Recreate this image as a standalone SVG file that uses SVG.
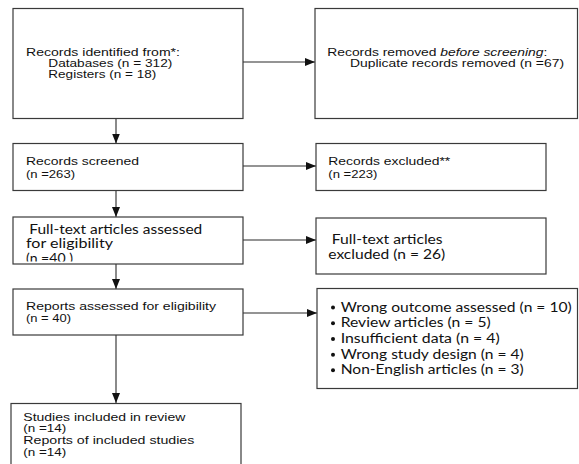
<svg xmlns="http://www.w3.org/2000/svg" width="579" height="464" viewBox="0 0 579 464">
<style>
  .box { fill: #ffffff; stroke: #3a3a3a; stroke-width: 1.2; }
  .a { font-family: "Liberation Sans", Arial, sans-serif; font-size: 11.5px; fill: #111111; }
  .c { font-family: Lato, "Open Sans", sans-serif; font-size: 12.5px; fill: #111111; }
  .conn { stroke: #2a2a2a; stroke-width: 1.1; fill: none; marker-end: url(#arrow); }
</style>
<defs>
  <marker id="arrow" markerUnits="userSpaceOnUse" markerWidth="10" markerHeight="8" refX="10" refY="4" orient="auto">
    <path d="M0,0 L10,4 L0,8 z" fill="#111111"/>
  </marker>
  <clipPath id="clipFT">
    <rect x="13" y="217" width="230" height="44.5"/>
  </clipPath>
</defs>
<rect width="579" height="464" fill="#ffffff"/>

<g id="connectors">
  <line class="conn" x1="116" y1="118.5" x2="116" y2="143.5"/>
  <line class="conn" x1="116" y1="190.5" x2="116" y2="217"/>
  <line class="conn" x1="116" y1="264" x2="116" y2="289"/>
  <line class="conn" x1="116" y1="335" x2="116" y2="403"/>
  <line class="conn" x1="243" y1="62" x2="315" y2="62"/>
  <line class="conn" x1="243" y1="166" x2="316" y2="166"/>
  <line class="conn" x1="243" y1="240" x2="316" y2="240"/>
  <line class="conn" x1="243" y1="313" x2="317" y2="313"/>
</g>

<g id="identified">
  <rect class="box" x="13" y="8.5" width="230" height="110"/>
  <text class="a" x="26" y="55.5" textLength="154" lengthAdjust="spacingAndGlyphs">Records identified from*:</text>
  <text class="a" x="48.3" y="66.7" textLength="124" lengthAdjust="spacingAndGlyphs">Databases (n = 312)</text>
  <text class="a" x="48.3" y="78.2" textLength="108" lengthAdjust="spacingAndGlyphs">Registers (n = 18)</text>
</g>

<g id="removed">
  <rect class="box" x="315" y="8.5" width="262.5" height="110"/>
  <text class="a" x="327.3" y="55.5" textLength="220" lengthAdjust="spacingAndGlyphs">Records removed <tspan font-style="italic">before screening</tspan>:</text>
  <text class="a" x="350" y="66.7" textLength="214" lengthAdjust="spacingAndGlyphs">Duplicate records removed (n =67)</text>
</g>

<g id="screened">
  <rect class="box" x="13" y="143.5" width="230" height="47"/>
  <text class="a" x="26" y="165.2" textLength="113" lengthAdjust="spacingAndGlyphs">Records screened</text>
  <text class="a" x="26" y="177.7" textLength="49" lengthAdjust="spacingAndGlyphs">(n =263)</text>
</g>

<g id="excluded">
  <rect class="box" x="316" y="143.5" width="230" height="47"/>
  <text class="a" x="328.3" y="165.2" textLength="122" lengthAdjust="spacingAndGlyphs">Records excluded**</text>
  <text class="a" x="328.3" y="177.7" textLength="49" lengthAdjust="spacingAndGlyphs">(n =223)</text>
</g>

<g id="fulltext">
  <rect class="box" x="13" y="217" width="230" height="47"/>
  <text class="c" x="29.3" y="234" textLength="173" lengthAdjust="spacingAndGlyphs">Full-text articles assessed</text>
  <text class="c" x="26" y="248" textLength="87" lengthAdjust="spacingAndGlyphs">for eligibility</text>
  <text class="c" x="26" y="262.5" textLength="47" lengthAdjust="spacingAndGlyphs" clip-path="url(#clipFT)">(n =40 )</text>
</g>

<g id="fulltext-excluded">
  <rect class="box" x="316" y="218" width="230" height="56"/>
  <text class="c" x="331.7" y="244" textLength="111" lengthAdjust="spacingAndGlyphs">Full-text articles</text>
  <text class="c" x="328.3" y="258.5" textLength="117" lengthAdjust="spacingAndGlyphs">excluded (n = 26)</text>
</g>

<g id="reports">
  <rect class="box" x="13" y="289" width="230" height="46"/>
  <text class="a" x="26" y="310.2" textLength="190" lengthAdjust="spacingAndGlyphs">Reports assessed for eligibility</text>
  <text class="a" x="26" y="321.8" textLength="45" lengthAdjust="spacingAndGlyphs">(n = 40)</text>
</g>

<g id="reasons">
  <rect class="box" x="317" y="288.5" width="260.5" height="100"/>
  <circle cx="333" cy="307.5" r="2" fill="#111111"/>
  <circle cx="333" cy="323.2" r="2" fill="#111111"/>
  <circle cx="333" cy="339" r="2" fill="#111111"/>
  <circle cx="333" cy="354.8" r="2" fill="#111111"/>
  <circle cx="333" cy="370.3" r="2" fill="#111111"/>
  <text class="c" x="340.7" y="311.7" textLength="231" lengthAdjust="spacingAndGlyphs">Wrong outcome  assessed (n = 10)</text>
  <text class="c" x="340.7" y="327.3" textLength="150" lengthAdjust="spacingAndGlyphs">Review articles (n = 5)</text>
  <text class="c" x="340.7" y="343.1" textLength="159" lengthAdjust="spacingAndGlyphs">Insufficient data (n = 4)</text>
  <text class="c" x="340.7" y="358.9" textLength="183" lengthAdjust="spacingAndGlyphs">Wrong study design (n = 4)</text>
  <text class="c" x="340.7" y="374.4" textLength="183" lengthAdjust="spacingAndGlyphs">Non-English articles (n = 3)</text>
</g>

<g id="included">
  <rect class="box" x="11" y="403.5" width="230" height="70"/>
  <text class="a" x="23.3" y="420.9" textLength="162" lengthAdjust="spacingAndGlyphs">Studies included in review</text>
  <text class="a" x="23.3" y="432.3" textLength="43" lengthAdjust="spacingAndGlyphs">(n =14)</text>
  <text class="a" x="23.3" y="444.2" textLength="171" lengthAdjust="spacingAndGlyphs">Reports of included studies</text>
  <text class="a" x="23.3" y="455.7" textLength="43" lengthAdjust="spacingAndGlyphs">(n =14)</text>
</g>
</svg>
